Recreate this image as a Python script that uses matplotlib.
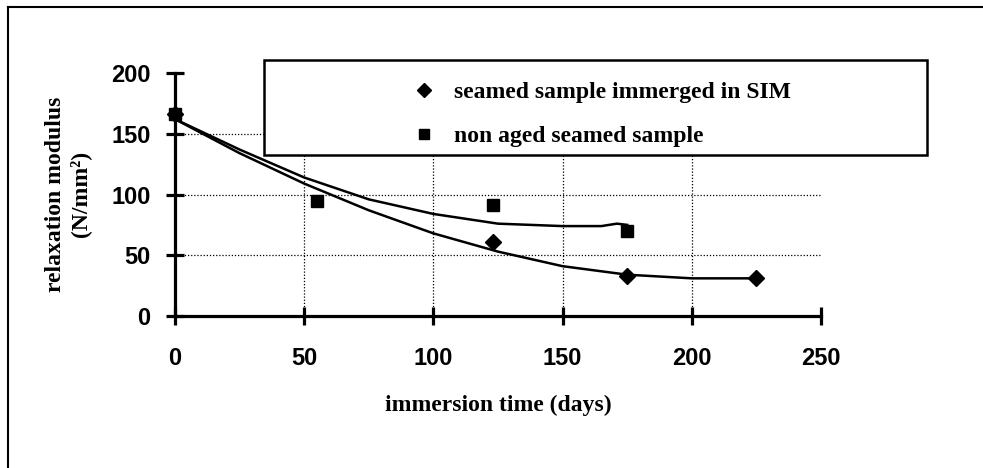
import matplotlib

matplotlib.use("Agg")
import matplotlib.pyplot as plt
from matplotlib.lines import Line2D
from matplotlib.patches import Rectangle

# measured points
sim_days = [0, 123, 175, 225]
sim_modulus = [166, 61, 33, 31]
nonaged_days = [0, 55, 123, 175]
nonaged_modulus = [166, 95, 91, 70]

# trend lines
sim_fit_days = [0, 25, 50, 75, 100, 125, 150, 175, 200, 225]
sim_fit_modulus = [162, 134, 109, 87, 68, 53, 41, 34, 31, 31]
nonaged_fit_days = [0, 25, 50, 75, 100, 125, 150, 165, 171, 175]
nonaged_fit_modulus = [162, 137, 114, 96, 84, 76, 74, 74, 76, 75]

x_ticks = [0, 50, 100, 150, 200, 250]
y_ticks = [0, 50, 100, 150, 200]
labels = ["seamed sample immerged in SIM", "non aged seamed sample"]

W, H = 983, 468
serif = "Liberation Serif"
sans = "Liberation Sans"

fig = plt.figure(figsize=(W / 100, H / 100), dpi=100)
ax = fig.add_axes([175 / W, 1 - 316 / H, (821 - 175) / W, (316 - 73) / H])

ax.plot(sim_fit_days, sim_fit_modulus, "k-", lw=1.8, zorder=3)
ax.plot(nonaged_fit_days, nonaged_fit_modulus, "k-", lw=1.8, zorder=3)
ax.plot(sim_days, sim_modulus, "D", color="k", ms=8, ls="none", clip_on=False, zorder=4)
ax.plot(nonaged_days, nonaged_modulus, "s", color="k", ms=8, ls="none", clip_on=False, zorder=4.5)

ax.set_xlim(0, 250)
ax.set_ylim(0, 200)
ax.set_xticks(x_ticks)
ax.set_yticks(y_ticks)
for s in ["top", "right"]:
    ax.spines[s].set_visible(False)
for s in ["left", "bottom"]:
    ax.spines[s].set_linewidth(2.3)
ax.tick_params(direction="inout", length=13, width=2.3)
ax.tick_params(axis="x", pad=16)
ax.tick_params(axis="y", pad=11)
for t in ax.get_xticklabels() + ax.get_yticklabels():
    t.set_fontfamily(sans); t.set_fontweight("bold"); t.set_fontsize(17)

# dotted grid only at the inner ticks
for v in y_ticks[1:-1]:
    ax.axhline(v, color="k", lw=0.9, ls=(0, (1, 1.5)), zorder=1)
for v in x_ticks[1:-1]:
    ax.axvline(v, color="k", lw=0.9, ls=(0, (1, 1.5)), zorder=1)

fig.text(498 / W, 1 - 405 / H, "immersion time (days)", ha="center", va="center",
         family=serif, weight="bold", fontsize=17)
fig.text(68 / W, 1 - 194 / H, "relaxation modulus\n(N/mm²)", ha="center", va="center",
         rotation=90, family=serif, weight="bold", fontsize=17, linespacing=1.15)

# legend box
ax.add_patch(Rectangle((264 / W, 1 - 155 / H), (927 - 264) / W, 95 / H,
                       transform=fig.transFigure, clip_on=False, facecolor="white",
                       edgecolor="k", lw=1.8, zorder=5))
handles = [Line2D([], [], marker="D", color="k", ls="none", ms=7),
           Line2D([], [], marker="s", color="k", ls="none", ms=7)]
leg = fig.legend(handles, labels, loc="upper left", bbox_to_anchor=(400 / W, 1 - 70 / H),
                 frameon=False, handlelength=1.0, handletextpad=0.8, labelspacing=0.95,
                 borderpad=0, prop={"family": serif, "weight": "bold", "size": 17})
leg.set_zorder(6)

# page border (top and left only)
fig.add_artist(Line2D([8 / W, 1], [1 - 7 / H] * 2, color="k", lw=1.5))
fig.add_artist(Line2D([8 / W] * 2, [0, 1 - 7 / H], color="k", lw=1.5))

fig.savefig("out.png", dpi=100)
